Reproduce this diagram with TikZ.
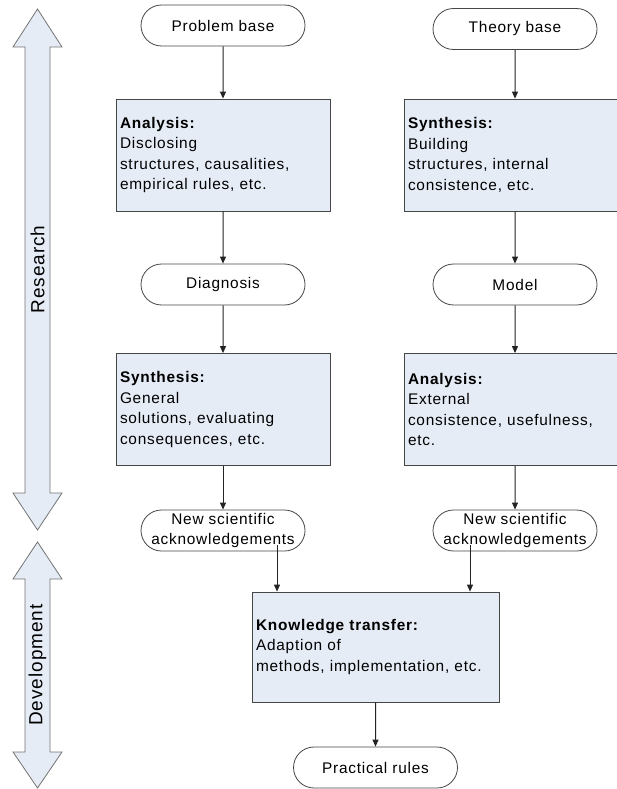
\documentclass[tikz,border=0pt]{standalone}
\usepackage{fontspec}
\setmainfont{Liberation Sans}[LetterSpace=5]
\usepackage{tikz}
\usetikzlibrary{calc}
\usetikzlibrary{arrows.meta}
\usetikzlibrary{shapes.misc}
\definecolor{boxblue}{RGB}{230,236,246}
\definecolor{darkline}{RGB}{70,70,70}
\definecolor{sidegray}{RGB}{115,115,115}
\definecolor{flowline}{RGB}{35,35,35}
\newcommand{\head}[1]{\textbf{#1}}
\newcommand{\widthblock}{206pt}
\newcommand{\widthtransfer}{239pt}
\tikzset{
    common/.style={draw=darkline, line width=0.8pt, font=\fontsize{15.4}{20.5}\selectfont},
    term/.style={common, rounded rectangle, align=center, fill=white, minimum width=166pt, minimum height=41pt, inner sep=1pt},
    block/.style={common, rectangle, align=left, fill=boxblue, text width=\widthblock, inner xsep=4pt, minimum height=112pt},
    transfer/.style={block, text width=\widthtransfer, minimum height=110pt},
    side/.style={fill=boxblue, draw=sidegray, line width=0.8pt},
    sidelabel/.style={rotate=90, font=\fontsize{19}{22}\selectfont},
    flow/.style={->, line width=1pt, flowline}
}

\begin{document}
\begin{tikzpicture}[x=1pt, y=-1pt, >={Triangle[length=7pt, width=6pt]}]
      \useasboundingbox (0,0) rectangle (616,789);

      % research / development arrows
      \draw[side] (37.5,9) -- (62,47) -- (50,47) -- (50,493) -- (62,493) -- (37.5,530)
          -- (13,493) -- (25,493) -- (25,47) -- (13,47) -- cycle;
      \draw[side] (37.5,542) -- (62,579) -- (50,579) -- (50,752) -- (62,752) -- (37.5,788)
          -- (13,752) -- (25,752) -- (25,579) -- (13,579) -- cycle;
      \node[sidelabel] (research) at (37.5,269.5) {Research};
      \node[sidelabel] (development) at (37.5,665) {Development};

      \path
          (223,25.5) node[term] (l-problem) {Problem base}
          +(0,129.5) node[block] (l-analysis) {\head{Analysis:}\\Disclosing\\structures, causalities,\\empirical rules, etc.}
          +(0,259) node[term] (l-diagnosis) {Diagnosis}
          +(0,384) node[block] (l-synthesis) {\head{Synthesis:}\\General\\solutions, evaluating\\consequences, etc.}
          +(0,505) node[term] (l-new) {New scientific\\acknowledgements};

      \path
          (515,29) node[term] (r-theory) {Theory base}
          +(-4,126) node[block] (r-synthesis) {\head{Synthesis:}\\Building\\structures, internal\\consistence, etc.}
          +(0,255.5) node[term] (r-model) {Model}
          +(-4,380.5) node[block] (r-analysis) {\head{Analysis:}\\External\\consistence, usefulness,\\etc.}
          +(0,501.5) node[term] (r-new) {New scientific\\acknowledgements};

      \path
          (375.5,647) node[transfer] (transfer) {\head{Knowledge transfer:}\\Adaption of\\methods, implementation, etc.}
          +(0,120.5) node[term] (rules) {Practical rules};

      \coordinate (l-new-out) at ([xshift=54pt, yshift=6pt]l-new.south);
      \coordinate (r-new-out) at ([xshift=-45pt, yshift=6pt]r-new.south);

      \draw[flow] (l-problem) -- (l-analysis);
      \draw[flow] (l-analysis) -- (l-diagnosis);
      \draw[flow] (l-diagnosis) -- (l-synthesis);
      \draw[flow] (l-synthesis) -- (l-new);
      \draw[flow] (r-theory) -- (r-theory |- r-synthesis.north);
      \draw[flow] (r-synthesis.south -| r-model) -- (r-model);
      \draw[flow] (r-model) -- (r-model |- r-analysis.north);
      \draw[flow] (r-analysis.south -| r-new) -- (r-new);
      \draw[flow] (l-new-out) -- (l-new-out |- transfer.north);
      \draw[flow] (r-new-out) -- (r-new-out |- transfer.north);
      \draw[flow] (transfer) -- (rules);
\end{tikzpicture}
\end{document}
